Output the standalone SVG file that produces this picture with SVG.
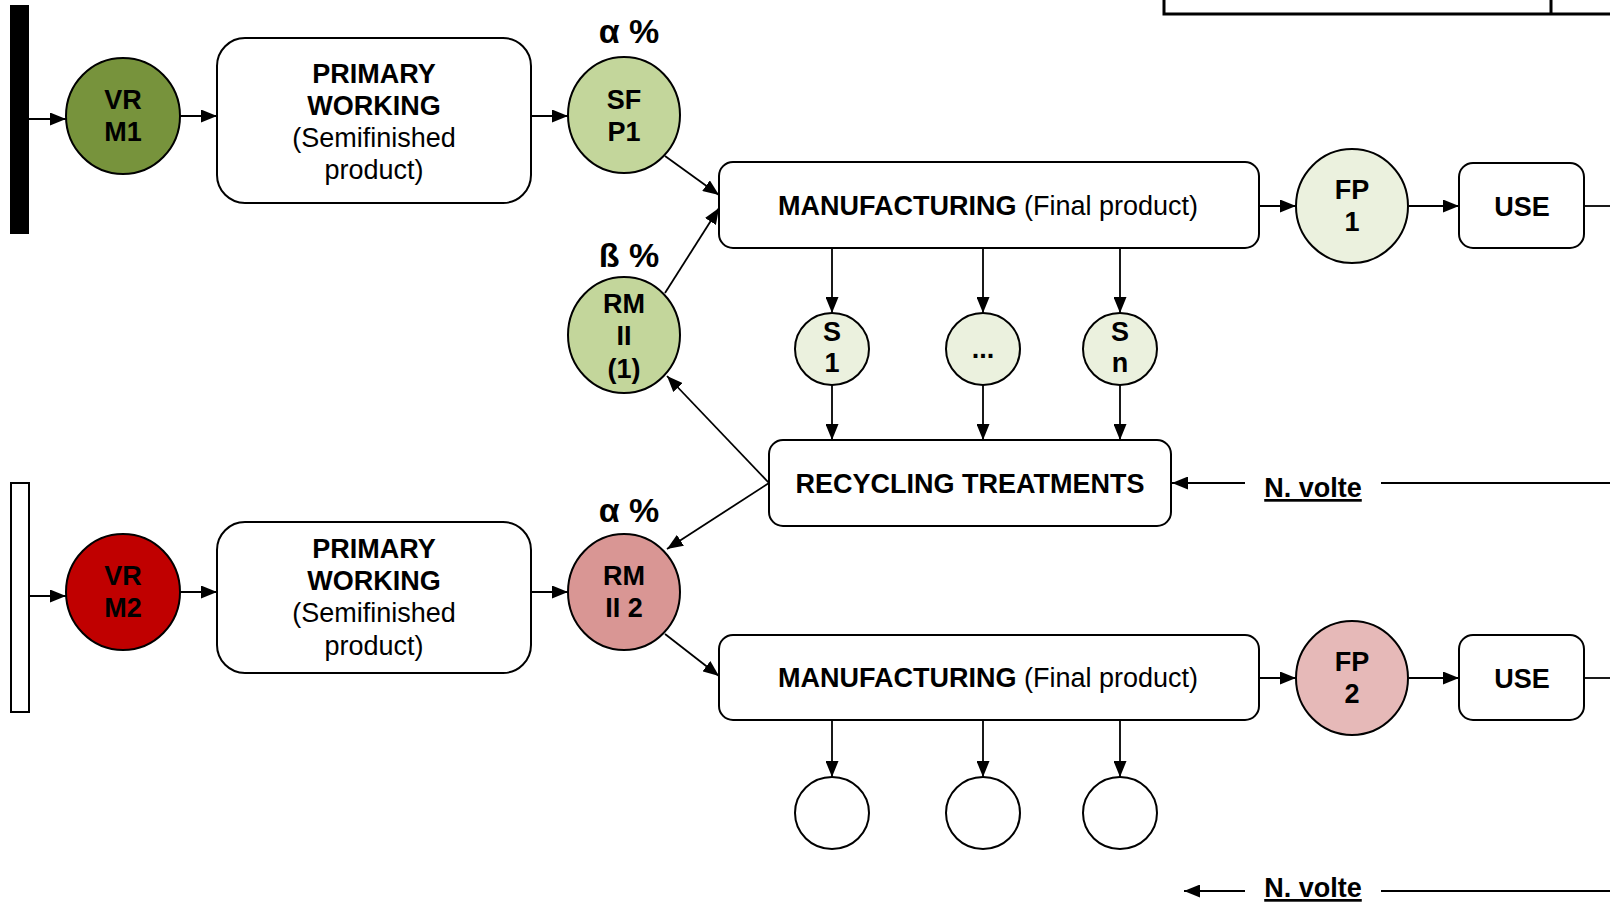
<svg xmlns="http://www.w3.org/2000/svg" width="1610" height="904" viewBox="0 0 1610 904">
<defs>
<marker id="ah" markerUnits="userSpaceOnUse" markerWidth="17" markerHeight="13" refX="16" refY="6.5" orient="auto">
<path d="M0,0 L16,6.5 L0,13 z" fill="#000"/>
</marker>
<style>
.box{fill:#fff;stroke:#000;stroke-width:2}
.nd{stroke:#000;stroke-width:2}
.c{stroke:#000;stroke-width:1.8;fill:none;marker-end:url(#ah)}
.ln{stroke:#000;stroke-width:1.8;fill:none}
text{font-family:"Liberation Sans",Arial,sans-serif;font-size:27px;fill:#000;text-anchor:middle}
.b{font-weight:bold}
.pct{font-weight:bold;font-size:34px}
</style>
</defs>
<rect width="1610" height="904" fill="#fff"/>

<g id="topframe">
<path d="M1164,-5 V14 H1615 M1551,-5 V14" fill="none" stroke="#000" stroke-width="3"/>
</g>

<g id="connectors">
<path class="c" d="M29,119 H66"/>
<path class="c" d="M180,116 H217"/>
<path class="c" d="M531,116 H568"/>
<path class="c" d="M665,156 L719,195"/>
<path class="c" d="M665,293 L719,208"/>
<path class="c" d="M1259,206 H1296"/>
<path class="c" d="M1409,206 H1459"/>
<path class="ln" d="M1584,206 H1610"/>
<path class="c" d="M832,248 V313"/>
<path class="c" d="M983,248 V313"/>
<path class="c" d="M1120,248 V313"/>
<path class="c" d="M832,385 V440"/>
<path class="c" d="M983,385 V440"/>
<path class="c" d="M1120,385 V440"/>
<path class="c" d="M769,483 L667,376"/>
<path class="c" d="M769,483 L667,549"/>
<path class="c" d="M1245,483 H1172"/>
<path class="ln" d="M1381,483 H1610"/>
<path class="c" d="M29,596 H66"/>
<path class="c" d="M180,592 H217"/>
<path class="c" d="M531,592 H568"/>
<path class="c" d="M665,634 L719,676"/>
<path class="c" d="M1259,678 H1296"/>
<path class="c" d="M1409,678 H1459"/>
<path class="ln" d="M1584,678 H1610"/>
<path class="c" d="M832,720 V777"/>
<path class="c" d="M983,720 V777"/>
<path class="c" d="M1120,720 V777"/>
<path class="c" d="M1245,891 H1184"/>
<path class="ln" d="M1381,891 H1610"/>
</g>

<g id="bar1"><rect x="10" y="5" width="19" height="229" fill="#000"/></g>
<g id="bar2"><rect x="11" y="483" width="18" height="229" class="nd" fill="#fff"/></g>

<g id="vrm1">
<ellipse cx="123" cy="116" rx="57" ry="58" class="nd" fill="#77933C"/>
<text class="b" x="123" y="109">VR</text>
<text class="b" x="123" y="141">M1</text>
</g>

<g id="pw1">
<rect x="217" y="38" width="314" height="165" rx="28" class="box"/>
<text class="b" x="374" y="83">PRIMARY</text>
<text class="b" x="374" y="115">WORKING</text>
<text x="374" y="147">(Semifinished</text>
<text x="374" y="179">product)</text>
</g>

<g id="sfp1">
<text class="pct" x="629" y="43">α %</text>
<ellipse cx="624" cy="115" rx="56" ry="58" class="nd" fill="#C3D69B"/>
<text class="b" x="624" y="109">SF</text>
<text class="b" x="624" y="141">P1</text>
</g>

<g id="mf1">
<rect x="719" y="162" width="540" height="86" rx="14" class="box"/>
<text x="988" y="215"><tspan class="b">MANUFACTURING</tspan> (Final product)</text>
</g>

<g id="rm1">
<text class="pct" x="629" y="267">ß %</text>
<ellipse cx="624" cy="335" rx="56" ry="58" class="nd" fill="#C3D69B"/>
<text class="b" x="624" y="313">RM</text>
<text class="b" x="624" y="345">II</text>
<text class="b" x="624" y="378">(1)</text>
</g>

<g id="fp1">
<ellipse cx="1352" cy="206" rx="56" ry="57" class="nd" fill="#EBF1DE"/>
<text class="b" x="1352" y="199">FP</text>
<text class="b" x="1352" y="231">1</text>
</g>

<g id="use1">
<rect x="1459" y="163" width="125" height="85" rx="14" class="box"/>
<text class="b" x="1522" y="216">USE</text>
</g>

<g id="s1">
<ellipse cx="832" cy="349" rx="37" ry="36" class="nd" fill="#EBF1DE"/>
<text class="b" x="832" y="341">S</text>
<text class="b" x="832" y="372">1</text>
</g>
<g id="sdots">
<ellipse cx="983" cy="349" rx="37" ry="36" class="nd" fill="#EBF1DE"/>
<text class="b" x="983" y="358">...</text>
</g>
<g id="sn">
<ellipse cx="1120" cy="349" rx="37" ry="36" class="nd" fill="#EBF1DE"/>
<text class="b" x="1120" y="341">S</text>
<text class="b" x="1120" y="372">n</text>
</g>

<g id="recycling">
<rect x="769" y="440" width="402" height="86" rx="14" class="box"/>
<text class="b" x="970" y="493">RECYCLING TREATMENTS</text>
</g>

<g id="nvolte1">
<text class="b" x="1313" y="497" text-decoration="underline">N. volte</text>
</g>

<g id="vrm2">
<ellipse cx="123" cy="592" rx="57" ry="58" class="nd" fill="#C00000"/>
<text class="b" x="123" y="585">VR</text>
<text class="b" x="123" y="617">M2</text>
</g>

<g id="pw2">
<rect x="217" y="522" width="314" height="151" rx="28" class="box"/>
<text class="b" x="374" y="558">PRIMARY</text>
<text class="b" x="374" y="590">WORKING</text>
<text x="374" y="622">(Semifinished</text>
<text x="374" y="655">product)</text>
</g>

<g id="rm2">
<text class="pct" x="629" y="522">α %</text>
<ellipse cx="624" cy="592" rx="56" ry="58" class="nd" fill="#D99694"/>
<text class="b" x="624" y="585">RM</text>
<text class="b" x="624" y="617">II 2</text>
</g>

<g id="mf2">
<rect x="719" y="635" width="540" height="85" rx="14" class="box"/>
<text x="988" y="687"><tspan class="b">MANUFACTURING</tspan> (Final product)</text>
</g>

<g id="fp2">
<ellipse cx="1352" cy="678" rx="56" ry="57" class="nd" fill="#E6B9B8"/>
<text class="b" x="1352" y="671">FP</text>
<text class="b" x="1352" y="703">2</text>
</g>

<g id="use2">
<rect x="1459" y="635" width="125" height="85" rx="14" class="box"/>
<text class="b" x="1522" y="688">USE</text>
</g>

<g id="e1"><ellipse cx="832" cy="813" rx="37" ry="36" class="nd" fill="#fff"/></g>
<g id="e2"><ellipse cx="983" cy="813" rx="37" ry="36" class="nd" fill="#fff"/></g>
<g id="e3"><ellipse cx="1120" cy="813" rx="37" ry="36" class="nd" fill="#fff"/></g>

<g id="nvolte2">
<text class="b" x="1313" y="897" text-decoration="underline">N. volte</text>
</g>
</svg>
